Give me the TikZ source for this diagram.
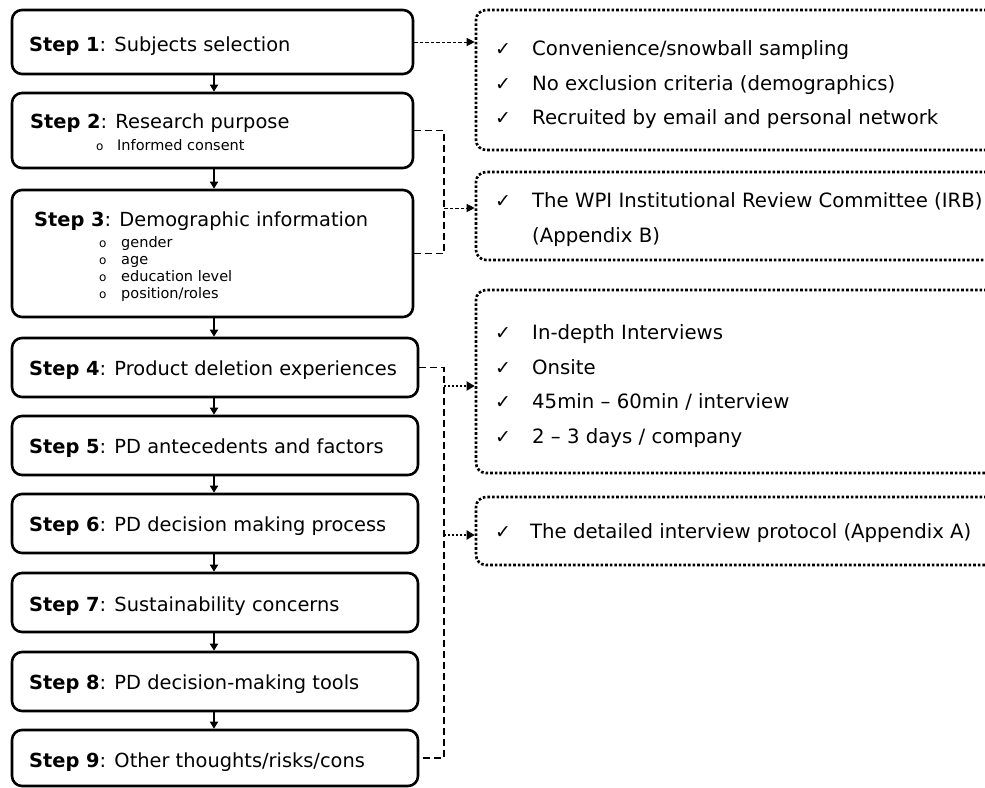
\documentclass[tikz,border=0pt]{standalone}
\usepackage{fontspec}
\setmainfont{DejaVu Sans}
\usetikzlibrary{arrows.meta}
\begin{document}
\begin{tikzpicture}[x=1pt,y=-1pt,
  stepbox/.style={draw, line width=2.6pt, rounded corners=10pt, inner sep=0pt},
  notebox/.style={draw, line width=2.6pt, dash pattern=on 2.6pt off 2pt, rounded corners=10pt, inner sep=0pt},
  steptext/.style={anchor=base west, inner sep=0pt, font=\fontsize{19.4}{22}\selectfont},
  notetext/.style={anchor=base west, inner sep=0pt, font=\fontsize{19.7}{22}\selectfont},
  subtext/.style={anchor=base west, inner sep=0pt, font=\fontsize{14.5}{17}\selectfont},
  bullet/.style={anchor=base west, inner sep=0pt, font=\fontsize{12}{14}\selectfont},
  tick/.style={anchor=base west, inner sep=0pt, font=\fontsize{19}{22}\selectfont},
  flow/.style={line width=1.8pt, -{Triangle[length=7pt,width=8pt]}},
  bracket/.style={line width=1.4pt, dash pattern=on 7pt off 4pt},
  thinlink/.style={line width=0.9pt, dash pattern=on 3.5pt off 2pt, -{Triangle[length=8pt,width=8pt]}},
  dotlink/.style={line width=2pt, dash pattern=on 2pt off 2pt, -{Triangle[length=8pt,width=9pt]}}
]
\useasboundingbox (0,0) rectangle (985,787);
\clip (0,0) rectangle (985,787);

% step boxes
\node[stepbox, minimum width=401pt, minimum height=64pt]  (s1) at (212.5,42) {};
\node[stepbox, minimum width=401pt, minimum height=75pt]  (s2) at (212.5,130.5) {};
\node[stepbox, minimum width=401pt, minimum height=127pt] (s3) at (212.5,253.5) {};
\node[stepbox, minimum width=406pt, minimum height=59pt]  (s4) at (215,367.5) {};
\node[stepbox, minimum width=406pt, minimum height=59pt]  (s5) at (215,445.5) {};
\node[stepbox, minimum width=406pt, minimum height=59pt]  (s6) at (215,523.5) {};
\node[stepbox, minimum width=406pt, minimum height=59pt]  (s7) at (215,602.5) {};
\node[stepbox, minimum width=406pt, minimum height=59pt]  (s8) at (215,681.5) {};
\node[stepbox, minimum width=406pt, minimum height=56pt]  (s9) at (215,758) {};

% step texts
\node[steptext] (t1) at (29,51)  {\textbf{Step 1}: Subjects selection};
\node[steptext] (t2) at (30,128) {\textbf{Step 2}: Research purpose};
\node[bullet]   (b21) at (96,150) {o};
\node[subtext]  (u21) at (117,150) {Informed consent};
\node[steptext] (t3) at (34,226) {\textbf{Step 3}: Demographic information};
\node[bullet]   (b31) at (99,247) {o};
\node[subtext]  (u31) at (121,247) {gender};
\node[bullet]   (b32) at (99,264) {o};
\node[subtext]  (u32) at (121,264) {age};
\node[bullet]   (b33) at (99,281) {o};
\node[subtext]  (u33) at (121,281) {education level};
\node[bullet]   (b34) at (99,298) {o};
\node[subtext]  (u34) at (121,298) {position/roles};
\node[steptext] (t4) at (29,375) {\textbf{Step 4}: Product deletion experiences};
\node[steptext] (t5) at (29,453) {\textbf{Step 5}: PD antecedents and factors};
\node[steptext] (t6) at (29,531) {\textbf{Step 6}: PD decision making process};
\node[steptext] (t7) at (29,611) {\textbf{Step 7}: Sustainability concerns};
\node[steptext] (t8) at (29,689) {\textbf{Step 8}: PD decision-making tools};
\node[steptext] (t9) at (29,767) {\textbf{Step 9}: Other thoughts/risks/cons};

% flow arrows between steps, on one vertical axis
\coordinate (ax) at (214,0);
\foreach \a/\b in {s1/s2,s2/s3,s3/s4,s4/s5,s5/s6,s6/s7,s7/s8,s8/s9}
  \draw[flow] (\a.south -| ax) -- (\b.north -| ax);

% note boxes
\node[notebox, minimum width=530pt, minimum height=140pt] (r1) at (741,80) {};
\node[notebox, minimum width=530pt, minimum height=88pt]  (r2) at (741,216) {};
\node[notebox, minimum width=530pt, minimum height=183pt] (r3) at (741,381.5) {};
\node[notebox, minimum width=530pt, minimum height=68pt]  (r4) at (741,531) {};

% note texts
\node[tick]     (c11) at (495,55)  {✓};
\node[notetext] (n11) at (532,55)  {Convenience/snowball sampling};
\node[tick]     (c12) at (495,90)  {✓};
\node[notetext] (n12) at (532,90)  {No exclusion criteria (demographics)};
\node[tick]     (c13) at (495,124) {✓};
\node[notetext] (n13) at (532,124) {Recruited by email and personal network};
\node[tick]     (c21) at (495,207) {✓};
\node[notetext] (n21) at (532,207) {The WPI Institutional Review Committee (IRB)};
\node[notetext] (n22) at (532,242) {(Appendix B)};
\node[tick]     (c31) at (495,339) {✓};
\node[notetext] (n31) at (532,339) {In-depth Interviews};
\node[tick]     (c32) at (495,374) {✓};
\node[notetext] (n32) at (532,374) {Onsite};
\node[tick]     (c33) at (495,408) {✓};
\node[notetext] (n33) at (532,408) {45min – 60min / interview};
\node[tick]     (c34) at (495,443) {✓};
\node[notetext] (n34) at (532,443) {2 – 3 days / company};
\node[tick]     (c41) at (495,538) {✓};
\node[notetext] (n41) at (530,538) {The detailed interview protocol (Appendix A)};

% links from steps to notes
\coordinate (k1) at (444,0);
\coordinate (a2) at (444,208);
\coordinate (a3) at (444,386);
\coordinate (a4) at (444,535);

\draw[thinlink] (s1.east) -- (s1.east -| r1.west);

\draw[bracket] (s2.east) -- (s2.east -| k1) -- (s3.east -| k1) -- (s3.east);
\draw[thinlink] (a2) -- (a2 -| r2.west);

\draw[bracket] (s4.east) -- (s4.east -| k1) -- (s9.east -| k1) -- (s9.east);
\draw[dotlink] (a3) -- (a3 -| r3.west);
\draw[dotlink] (a4) -- (a4 -| r4.west);
\end{tikzpicture}
\end{document}
